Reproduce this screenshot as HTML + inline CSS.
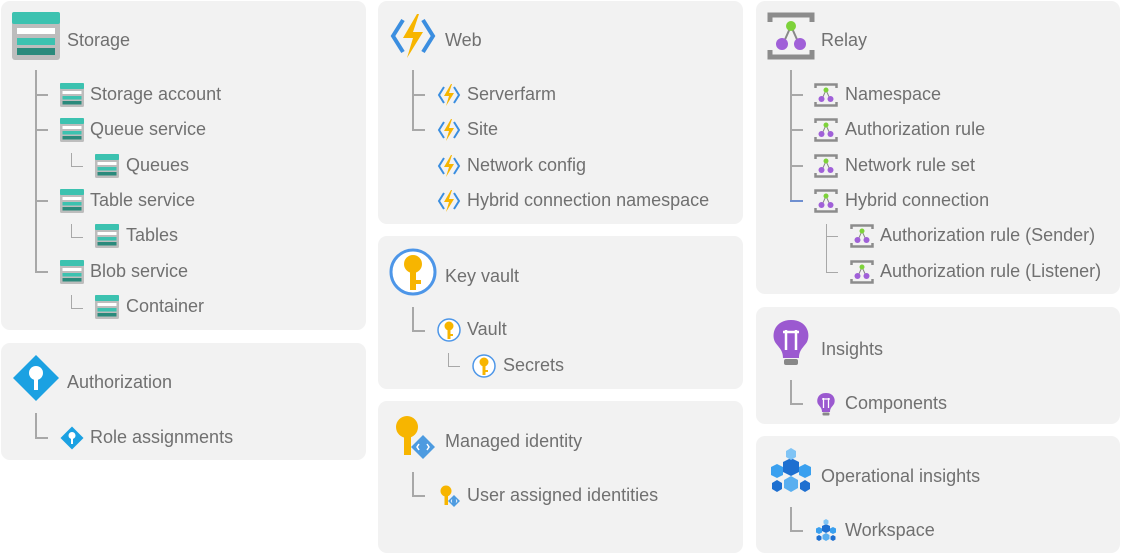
<!DOCTYPE html>
<html><head><meta charset="utf-8"><style>
body{margin:0;width:1122px;height:555px;background:#fff;position:relative;overflow:hidden;font-family:"Liberation Sans",sans-serif;color:#707070}
.p{position:absolute;background:#f2f2f2;border-radius:9px}
.t{position:absolute;font-size:18px;line-height:20px;white-space:nowrap;margin-top:-1px}
.v{position:absolute;width:2px;background:#a8a8a8}
.h{position:absolute;height:2px;background:#a8a8a8}
svg{position:absolute}
</style></head><body>
<svg width="0" height="0" style="position:absolute"><defs>
<g id="sto"><rect x="0" y="0" width="48" height="48" rx="3" fill="#bdbdbd"/><rect x="0" y="0" width="48" height="12" rx="2" fill="#3cc2b0"/><rect x="5" y="16" width="38" height="6" fill="#fff"/><rect x="5" y="26" width="38" height="7" fill="#3cc2b0"/><rect x="5" y="36" width="38" height="7" fill="#2a8a7c"/></g>
<g id="web"><path d="M14 8 L4 24 L14 40" stroke="#3b8ee0" stroke-width="4" fill="none"/><path d="M34 8 L44 24 L34 40" stroke="#3b8ee0" stroke-width="4" fill="none"/><path d="M28 2 L14 26 L24 26 L18 46 L34 20 L24 20 L30 2Z" fill="#f7b500"/></g>
<g id="rel"><path d="M3 10 V3 H45 V10 M3 38 V45 H45 V38" stroke="#8c8c8c" stroke-width="5" fill="none"/><path d="M16 32 L24 14 L32 32" stroke="#888" stroke-width="2" fill="none"/><circle cx="24" cy="14" r="5" fill="#7dd23a"/><circle cx="15" cy="32" r="6" fill="#a060d8"/><circle cx="33" cy="32" r="6" fill="#a060d8"/></g>
<g id="kv"><circle cx="24" cy="24" r="22" fill="#fff" stroke="#4d96e8" stroke-width="3"/><circle cx="24" cy="16" r="9" fill="#f7b500"/><rect x="21" y="20" width="6" height="22" fill="#f7b500"/><rect x="27" y="32" width="5" height="4" fill="#f7b500"/></g>
<g id="aut"><path d="M24 1 L47 24 L24 47 L1 24Z" fill="#1ba1e2"/><circle cx="24" cy="19" r="7" fill="#fff"/><rect x="22" y="22" width="4" height="14" fill="#fff"/></g>
<g id="mi"><circle cx="18" cy="14" r="11" fill="#f7b500"/><rect x="15" y="20" width="7" height="22" fill="#f7b500"/><path d="M34 22 L46 34 L34 46 L22 34Z" fill="#4d9be0"/><path d="M30 31 L28 34 L30 37 M38 31 L40 34 L38 37" stroke="#fff" stroke-width="1.5" fill="none"/></g>
<g id="ins"><path d="M24 2 C8 2 4 16 8 24 C12 30 16 32 16 40 H32 C32 32 36 30 40 24 C44 16 40 2 24 2Z" fill="#9b59d0"/><rect x="17" y="41" width="14" height="6" rx="2" fill="#888"/><path d="M19 12 V32 M29 12 V32 M16 14 H32" stroke="#fff" stroke-width="2.5" fill="none"/></g>
<g id="op"><polygon points="24,10 32,14 32,24 24,28 16,24 16,14" fill="#1e6fd0"/><polygon points="10,16 16,19 16,27 10,30 4,27 4,19" fill="#3aa0ef"/><polygon points="38,16 44,19 44,27 38,30 32,27 32,19" fill="#3aa0ef"/><polygon points="24,28 31,32 31,40 24,44 17,40 17,32" fill="#5aaff0"/><polygon points="24,0 29,3 29,9 24,12 19,9 19,3" fill="#80c4f5"/><polygon points="10,32 15,35 15,41 10,44 5,41 5,35" fill="#1e6fd0"/><polygon points="38,32 43,35 43,41 38,44 33,41 33,35" fill="#1e6fd0"/></g>
</defs></svg>

<div class="p" style="left:1px;top:1px;width:365px;height:329px"></div>
<div class="p" style="left:1px;top:343px;width:365px;height:117px"></div>
<div class="p" style="left:378px;top:1px;width:365px;height:223px"></div>
<div class="p" style="left:378px;top:236px;width:365px;height:153px"></div>
<div class="p" style="left:378px;top:401px;width:365px;height:152px"></div>
<div class="p" style="left:756px;top:1px;width:364px;height:293px"></div>
<div class="p" style="left:756px;top:307px;width:364px;height:117px"></div>
<div class="p" style="left:756px;top:436px;width:364px;height:117px"></div>

<svg style="left:12px;top:12px" width="48" height="48"><use href="#sto"/></svg>
<div class="t" style="left:67px;top:31px">Storage</div>
<div class="v" style="left:35px;top:70px;height:203px"></div>
<div class="h" style="left:35px;top:94px;width:13px"></div>
<div class="h" style="left:35px;top:129px;width:13px"></div>
<div class="h" style="left:35px;top:200px;width:13px"></div>
<div class="h" style="left:35px;top:271px;width:13px"></div>
<div class="v" style="left:71px;top:153px;height:14px;width:1px"></div><div class="h" style="left:71px;top:166px;width:12px;height:1px"></div>
<div class="v" style="left:71px;top:224px;height:14px;width:1px"></div><div class="h" style="left:71px;top:237px;width:12px;height:1px"></div>
<div class="v" style="left:71px;top:295px;height:14px;width:1px"></div><div class="h" style="left:71px;top:308px;width:12px;height:1px"></div>
<svg style="left:60px;top:83px" width="24" height="24" viewBox="0 0 48 48"><use href="#sto"/></svg>
<div class="t" style="left:90px;top:85px">Storage account</div>
<svg style="left:60px;top:118px" width="24" height="24" viewBox="0 0 48 48"><use href="#sto"/></svg>
<div class="t" style="left:90px;top:120px">Queue service</div>
<svg style="left:95px;top:154px" width="24" height="24" viewBox="0 0 48 48"><use href="#sto"/></svg>
<div class="t" style="left:126px;top:156px">Queues</div>
<svg style="left:60px;top:189px" width="24" height="24" viewBox="0 0 48 48"><use href="#sto"/></svg>
<div class="t" style="left:90px;top:191px">Table service</div>
<svg style="left:95px;top:224px" width="24" height="24" viewBox="0 0 48 48"><use href="#sto"/></svg>
<div class="t" style="left:126px;top:226px">Tables</div>
<svg style="left:60px;top:260px" width="24" height="24" viewBox="0 0 48 48"><use href="#sto"/></svg>
<div class="t" style="left:90px;top:262px">Blob service</div>
<svg style="left:95px;top:295px" width="24" height="24" viewBox="0 0 48 48"><use href="#sto"/></svg>
<div class="t" style="left:126px;top:297px">Container</div>

<svg style="left:12px;top:354px" width="48" height="48"><use href="#aut"/></svg>
<div class="t" style="left:67px;top:373px">Authorization</div>
<div class="v" style="left:35px;top:413px;height:26px"></div><div class="h" style="left:35px;top:437px;width:13px"></div>
<svg style="left:60px;top:426px" width="24" height="24" viewBox="0 0 48 48"><use href="#aut"/></svg>
<div class="t" style="left:90px;top:428px">Role assignments</div>

<svg style="left:389px;top:12px" width="48" height="48"><use href="#web"/></svg>
<div class="t" style="left:445px;top:31px">Web</div>
<div class="v" style="left:412px;top:70px;height:61px"></div>
<div class="h" style="left:412px;top:94px;width:13px"></div>
<div class="h" style="left:412px;top:129px;width:13px"></div>
<svg style="left:437px;top:83px" width="24" height="24" viewBox="0 0 48 48"><use href="#web"/></svg>
<div class="t" style="left:467px;top:85px">Serverfarm</div>
<svg style="left:437px;top:118px" width="24" height="24" viewBox="0 0 48 48"><use href="#web"/></svg>
<div class="t" style="left:467px;top:120px">Site</div>
<svg style="left:437px;top:154px" width="24" height="24" viewBox="0 0 48 48"><use href="#web"/></svg>
<div class="t" style="left:467px;top:156px">Network config</div>
<svg style="left:437px;top:189px" width="24" height="24" viewBox="0 0 48 48"><use href="#web"/></svg>
<div class="t" style="left:467px;top:191px">Hybrid connection namespace</div>

<svg style="left:389px;top:248px" width="48" height="48"><use href="#kv"/></svg>
<div class="t" style="left:445px;top:267px">Key vault</div>
<div class="v" style="left:412px;top:307px;height:25px"></div><div class="h" style="left:412px;top:330px;width:13px"></div>
<svg style="left:437px;top:318px" width="24" height="24" viewBox="0 0 48 48"><use href="#kv"/></svg>
<div class="t" style="left:467px;top:320px">Vault</div>
<div class="v" style="left:448px;top:353px;height:14px;width:1px"></div><div class="h" style="left:448px;top:366px;width:12px;height:1px"></div>
<svg style="left:472px;top:354px" width="24" height="24" viewBox="0 0 48 48"><use href="#kv"/></svg>
<div class="t" style="left:503px;top:356px">Secrets</div>

<svg style="left:389px;top:413px" width="48" height="48"><use href="#mi"/></svg>
<div class="t" style="left:445px;top:432px">Managed identity</div>
<div class="v" style="left:412px;top:472px;height:25px"></div><div class="h" style="left:412px;top:495px;width:13px"></div>
<svg style="left:437px;top:484px" width="24" height="24" viewBox="0 0 48 48"><use href="#mi"/></svg>
<div class="t" style="left:467px;top:486px">User assigned identities</div>

<svg style="left:767px;top:12px" width="48" height="48"><use href="#rel"/></svg>
<div class="t" style="left:821px;top:31px">Relay</div>
<div class="v" style="left:790px;top:70px;height:132px"></div>
<div class="h" style="left:790px;top:94px;width:13px"></div>
<div class="h" style="left:790px;top:129px;width:13px"></div>
<div class="h" style="left:790px;top:165px;width:13px"></div>
<div class="h" style="left:790px;top:200px;width:13px;background:#6f8fd0"></div>
<svg style="left:814px;top:83px" width="24" height="24" viewBox="0 0 48 48"><use href="#rel"/></svg>
<div class="t" style="left:845px;top:85px">Namespace</div>
<svg style="left:814px;top:118px" width="24" height="24" viewBox="0 0 48 48"><use href="#rel"/></svg>
<div class="t" style="left:845px;top:120px">Authorization rule</div>
<svg style="left:814px;top:154px" width="24" height="24" viewBox="0 0 48 48"><use href="#rel"/></svg>
<div class="t" style="left:845px;top:156px">Network rule set</div>
<svg style="left:814px;top:189px" width="24" height="24" viewBox="0 0 48 48"><use href="#rel"/></svg>
<div class="t" style="left:845px;top:191px">Hybrid connection</div>
<div class="v" style="left:826px;top:224px;height:49px;width:1px"></div>
<div class="h" style="left:826px;top:236px;width:12px;height:1px"></div>
<div class="h" style="left:826px;top:272px;width:12px;height:1px"></div>
<svg style="left:850px;top:224px" width="24" height="24" viewBox="0 0 48 48"><use href="#rel"/></svg>
<div class="t" style="left:880px;top:226px">Authorization rule (Sender)</div>
<svg style="left:850px;top:260px" width="24" height="24" viewBox="0 0 48 48"><use href="#rel"/></svg>
<div class="t" style="left:880px;top:262px">Authorization rule (Listener)</div>

<svg style="left:767px;top:318px" width="48" height="48"><use href="#ins"/></svg>
<div class="t" style="left:821px;top:340px">Insights</div>
<div class="v" style="left:790px;top:380px;height:25px"></div><div class="h" style="left:790px;top:403px;width:13px"></div>
<svg style="left:814px;top:392px" width="24" height="24" viewBox="0 0 48 48"><use href="#ins"/></svg>
<div class="t" style="left:845px;top:394px">Components</div>

<svg style="left:767px;top:448px" width="48" height="48"><use href="#op"/></svg>
<div class="t" style="left:821px;top:467px">Operational insights</div>
<div class="v" style="left:790px;top:507px;height:25px"></div><div class="h" style="left:790px;top:530px;width:13px"></div>
<svg style="left:814px;top:519px" width="24" height="24" viewBox="0 0 48 48"><use href="#op"/></svg>
<div class="t" style="left:845px;top:521px">Workspace</div>
</body></html>
